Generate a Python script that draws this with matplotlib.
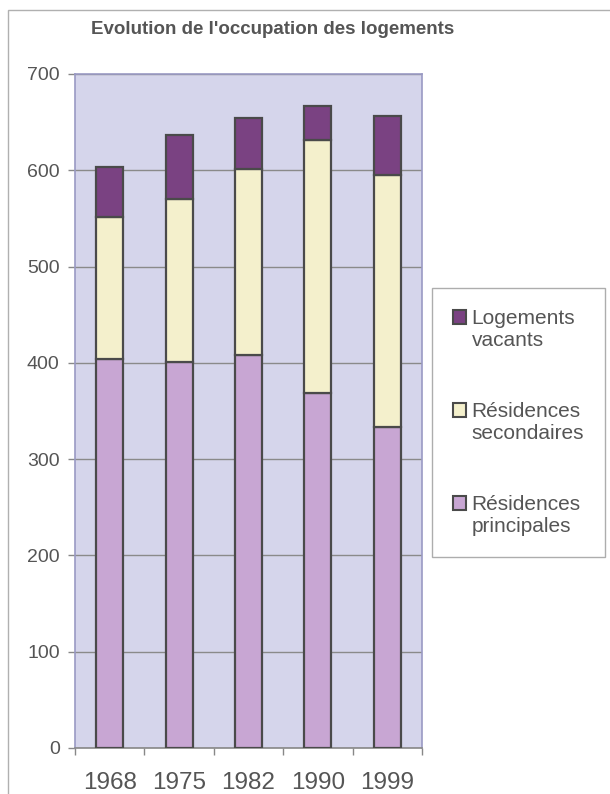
import matplotlib
matplotlib.use("Agg")
import matplotlib.pyplot as plt
from matplotlib.patches import Rectangle
from matplotlib.legend_handler import HandlerPatch
import numpy as np

plt.rcParams['font.family'] = ['Liberation Sans', 'DejaVu Sans']

years = ["1968", "1975", "1982", "1990", "1999"]
principales = [404, 401, 408, 369, 333]
secondaires = [147, 169, 193, 262, 262]
vacants = [52, 67, 53, 36, 61]
yticks = [0, 100, 200, 300, 400, 500, 600, 700]
labels = ["Logements\nvacants", "Résidences\nsecondaires", "Résidences\nprincipales"]

c_vac = "#7a4282"
c_sec = "#f4f0cc"
c_pri = "#c8a6d3"
edge = "#4a4a4a"
txt = "#555555"

fig = plt.figure(figsize=(6.10, 7.94), dpi=100)
ax = fig.add_axes([75/610, 1-748/794, (422-75)/610, (748-74)/794])
ax.set_facecolor("#d5d5eb")

x = np.arange(len(years))
w = 0.39
p = np.array(principales)
s = np.array(secondaires)
v = np.array(vacants)
ax.bar(x, p, w, color=c_pri, edgecolor=edge, linewidth=1.6, zorder=3)
ax.bar(x, s, w, bottom=p, color=c_sec, edgecolor=edge, linewidth=1.6, zorder=3)
ax.bar(x, v, w, bottom=p+s, color=c_vac, edgecolor=edge, linewidth=1.6, zorder=3)

ax.set_xlim(-0.5, len(years)-0.5)
ax.set_ylim(0, 700)
ax.set_yticks(yticks)
ax.yaxis.grid(True, color="#8a8a8a", linewidth=1.0, zorder=1)
ax.set_axisbelow(True)
ax.set_xticks(x)
ax.set_xticklabels(years)
ax.set_xticks(np.arange(len(years)+1)-0.5, minor=True)
ax.tick_params(axis="x", which="major", length=0, pad=17, labelsize=17.5, labelcolor=txt)
ax.tick_params(axis="x", which="minor", length=5, width=1, color="#888888", direction="out")
ax.tick_params(axis="y", length=5, width=1, color="#888888", pad=6, labelsize=14, labelcolor=txt)
for sp in ["top", "right", "left"]:
    ax.spines[sp].set_color("#9a9ac4")
    ax.spines[sp].set_linewidth(1.2)
ax.spines["bottom"].set_color("#888888")
ax.spines["bottom"].set_linewidth(1.2)

fig.text(273/610, 1-30/794, "Evolution de l'occupation des logements", ha="center", va="center",
         fontsize=13.5, fontweight="bold", color=txt)

# outer frame
fig.patches.append(Rectangle((8/610, -0.5), 2, 1.5 - 10/794, transform=fig.transFigure,
                             fill=False, edgecolor="#b0b0b0", linewidth=1.0))

def make_patch(legend, orig_handle, xdescent, ydescent, width, height, fontsize):
    return Rectangle((-xdescent, -ydescent + fontsize*0.62), width, height)

handles = [Rectangle((0, 0), 1, 1, facecolor=c, edgecolor=edge, linewidth=1.5)
           for c in [c_vac, c_sec, c_pri]]
hm = {h: HandlerPatch(patch_func=make_patch) for h in handles}
leg = fig.legend(handles, labels, loc="upper left", bbox_to_anchor=(432/610, 1-288/794),
                 fontsize=15, frameon=True, fancybox=False, handlelength=0.65, handleheight=0.65,
                 handletextpad=0.25, labelspacing=2.5, borderpad=1.0, borderaxespad=0,
                 handler_map=hm, labelcolor=txt)
leg.get_frame().set_edgecolor("#999999")
leg.get_frame().set_linewidth(1.0)

fig.savefig("out.png", dpi=100)
